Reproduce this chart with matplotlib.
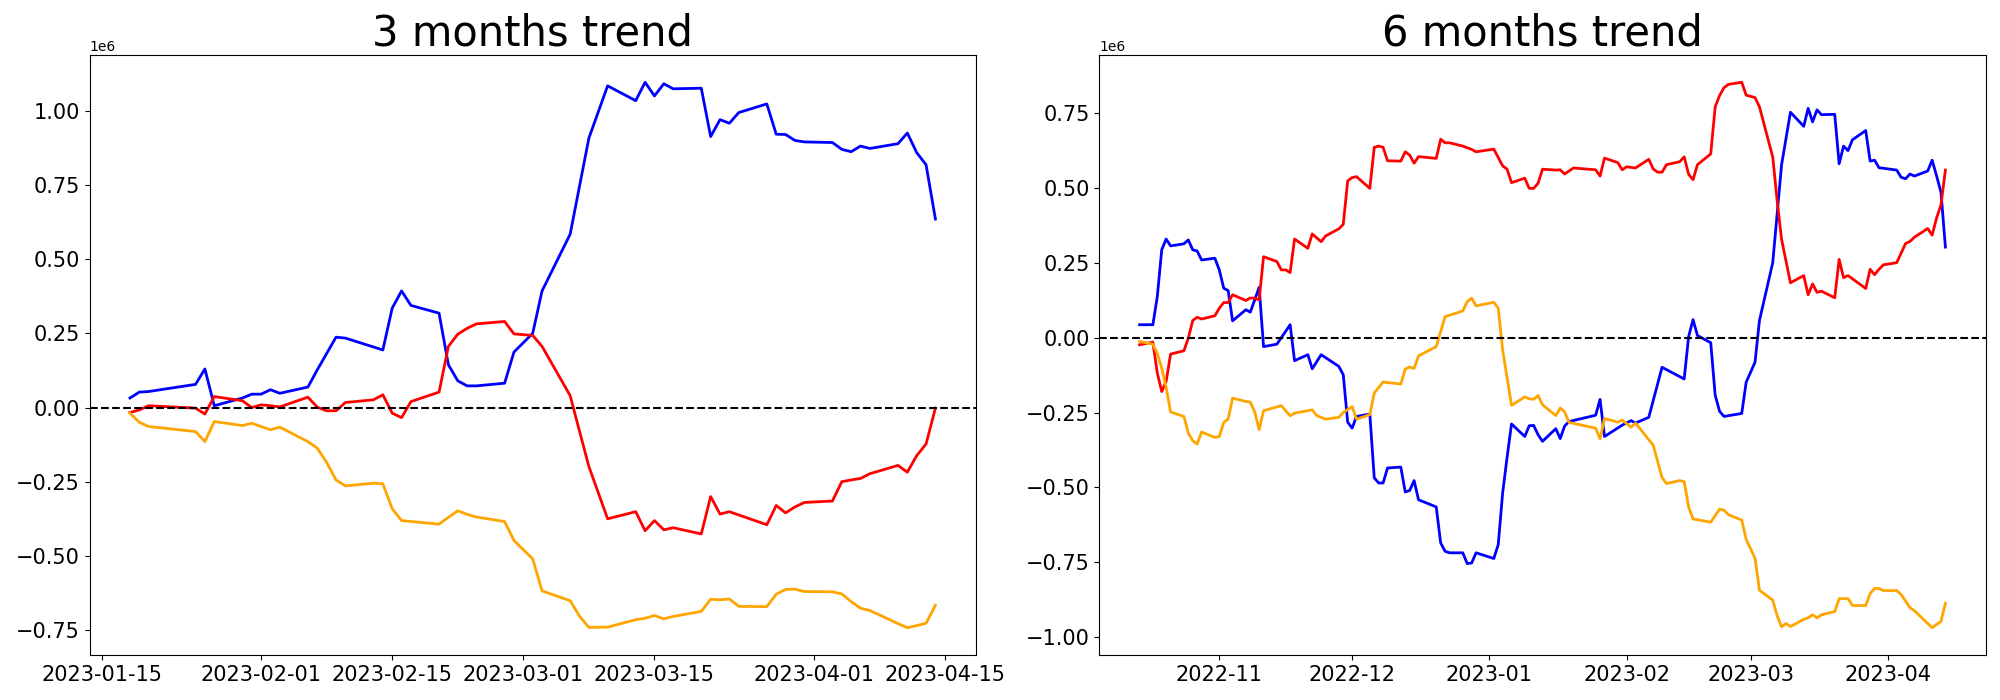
import matplotlib
matplotlib.use('Agg')
import matplotlib.pyplot as plt
import matplotlib.dates as mdates
import pandas as pd

# ---------------- 3 months trend (day offsets from 2023-01-15) ----------------
BASE_3M = '2023-01-15'
days_3m = [3, 4, 5, 10, 11, 12, 15, 16, 17, 18, 19, 22, 23, 24, 25, 26, 29, 30, 31, 32,
           33, 36, 37, 38, 39, 40, 43, 44, 46, 47, 50, 51, 52, 54, 57, 58, 59, 60, 61, 64,
           65, 66, 67, 68, 71, 72, 73, 74, 75, 78, 79, 80, 81, 82, 85, 86, 87, 88, 89]
blue_3m = [0.032, 0.052, 0.054, 0.078, 0.130, 0.006, 0.032, 0.045, 0.045, 0.060, 0.048,
           0.069, 0.127, 0.182, 0.237, 0.234, 0.204, 0.194, 0.335, 0.393, 0.344, 0.318,
           0.144, 0.090, 0.073, 0.073, 0.082, 0.187, 0.250, 0.393, 0.584, 0.746, 0.908,
           1.084, 1.034, 1.096, 1.050, 1.091, 1.074, 1.076, 0.913, 0.970, 0.958, 0.994,
           1.023, 0.921, 0.920, 0.900, 0.895, 0.893, 0.870, 0.862, 0.881, 0.873, 0.889,
           0.925, 0.859, 0.818, 0.635]
red_3m = [-0.017, -0.008, 0.006, -0.002, -0.022, 0.037, 0.023, 0.000, 0.009, 0.006, 0.002,
          0.035, 0.001, -0.011, -0.011, 0.017, 0.026, 0.043, -0.019, -0.034, 0.020, 0.052,
          0.206, 0.247, 0.267, 0.282, 0.290, 0.248, 0.243, 0.206, 0.040, -0.080, -0.199,
          -0.375, -0.351, -0.415, -0.381, -0.412, -0.405, -0.426, -0.300, -0.359, -0.351,
          -0.362, -0.395, -0.330, -0.355, -0.335, -0.320, -0.315, -0.250, -0.244, -0.239,
          -0.223, -0.195, -0.218, -0.162, -0.123, -0.002]
orange_3m = [-0.019, -0.050, -0.064, -0.081, -0.115, -0.047, -0.061, -0.053, -0.064, -0.075,
             -0.066, -0.115, -0.137, -0.185, -0.244, -0.264, -0.255, -0.257, -0.341, -0.381,
             -0.384, -0.393, -0.370, -0.348, -0.360, -0.369, -0.384, -0.448, -0.510, -0.618,
             -0.651, -0.703, -0.741, -0.740, -0.715, -0.710, -0.701, -0.712, -0.704, -0.687,
             -0.646, -0.648, -0.645, -0.670, -0.671, -0.629, -0.613, -0.612, -0.620, -0.621,
             -0.628, -0.654, -0.676, -0.684, -0.728, -0.742, -0.735, -0.727, -0.666]

# ---------------- 6 months trend (day offsets from 2022-11-01) ----------------
BASE_6M = '2022-11-01'
blue_6m_days = [-18, -15, -14, -13, -12, -11, -8, -7, -6, -5, -4, -1, 0, 1, 2, 3, 6, 7, 8, 9,
                10, 13, 16, 17, 20, 21, 23, 27, 28, 29, 30, 31, 34, 35, 36, 37, 38, 41, 42, 43,
                44, 45, 49, 50, 51, 52, 55, 56, 57, 58, 62, 63, 64, 65, 66, 69, 70, 71, 72, 73,
                76, 77, 78, 79, 85, 86, 87, 91, 93, 94, 97, 100, 105, 106, 107, 108, 111, 112,
                113, 114, 118, 119, 121, 122, 125, 127, 129, 132, 133, 134, 135, 136, 139, 140,
                141, 142, 143, 146, 147, 148, 149, 153, 154, 155, 156, 157, 160, 161, 162, 163, 164]
blue_6m = [0.043, 0.043, 0.137, 0.293, 0.329, 0.306, 0.313, 0.326, 0.293, 0.289, 0.259, 0.265,
           0.226, 0.165, 0.157, 0.056, 0.093, 0.085, 0.126, 0.168, -0.030, -0.022, 0.043, -0.077,
           -0.057, -0.104, -0.057, -0.096, -0.124, -0.282, -0.302, -0.263, -0.255, -0.468, -0.485,
           -0.485, -0.435, -0.432, -0.515, -0.510, -0.477, -0.541, -0.565, -0.685, -0.713, -0.718,
           -0.718, -0.754, -0.752, -0.718, -0.737, -0.691, -0.518, -0.400, -0.288, -0.330, -0.294,
           -0.293, -0.324, -0.346, -0.304, -0.337, -0.295, -0.280, -0.259, -0.206, -0.330, -0.292,
           -0.277, -0.285, -0.266, -0.099, -0.138, 0.003, 0.060, 0.007, -0.017, -0.192, -0.246,
           -0.263, -0.253, -0.149, -0.082, 0.057, 0.250, 0.577, 0.752, 0.705, 0.765, 0.720, 0.760,
           0.744, 0.745, 0.580, 0.639, 0.624, 0.660, 0.691, 0.589, 0.592, 0.567, 0.559, 0.535,
           0.530, 0.546, 0.539, 0.556, 0.592, 0.540, 0.485, 0.302]
red_6m_days = [-18, -15, -14, -13, -12, -11, -8, -7, -6, -5, -4, -1, 0, 1, 2, 3, 6, 7, 8, 9, 10,
               13, 14, 15, 16, 17, 20, 21, 23, 24, 27, 28, 29, 30, 31, 34, 35, 36, 37, 38, 41, 42,
               43, 44, 45, 49, 50, 51, 52, 55, 57, 58, 62, 64, 65, 66, 69, 70, 71, 72, 73, 76, 77,
               78, 80, 85, 86, 87, 90, 91, 92, 94, 97, 98, 99, 100, 101, 104, 105, 106, 107, 108,
               111, 112, 113, 114, 115, 118, 119, 121, 122, 125, 126, 127, 129, 132, 133, 134, 135,
               136, 139, 140, 141, 142, 146, 147, 148, 149, 150, 153, 155, 156, 157, 160, 161, 162,
               163, 164]
red_6m = [-0.024, -0.015, -0.118, -0.180, -0.146, -0.055, -0.044, -0.002, 0.057, 0.068, 0.062,
          0.073, 0.098, 0.117, 0.117, 0.143, 0.124, 0.132, 0.132, 0.126, 0.270, 0.254, 0.226,
          0.226, 0.217, 0.329, 0.298, 0.346, 0.320, 0.339, 0.363, 0.378, 0.523, 0.534, 0.537,
          0.498, 0.635, 0.639, 0.635, 0.590, 0.589, 0.620, 0.609, 0.582, 0.604, 0.598, 0.662,
          0.650, 0.650, 0.639, 0.628, 0.620, 0.629, 0.573, 0.562, 0.517, 0.532, 0.498, 0.498,
          0.515, 0.562, 0.559, 0.560, 0.546, 0.566, 0.560, 0.539, 0.599, 0.584, 0.560, 0.570,
          0.566, 0.595, 0.563, 0.552, 0.552, 0.577, 0.587, 0.603, 0.545, 0.527, 0.577, 0.613,
          0.770, 0.808, 0.834, 0.845, 0.852, 0.809, 0.801, 0.770, 0.603, 0.456, 0.328, 0.183,
          0.207, 0.143, 0.179, 0.151, 0.155, 0.133, 0.261, 0.200, 0.207, 0.164, 0.228, 0.210,
          0.228, 0.243, 0.250, 0.314, 0.321, 0.335, 0.364, 0.342, 0.399, 0.443, 0.559]
orange_6m_days = [-18, -15, -14, -13, -12, -11, -8, -7, -6, -5, -4, -1, 0, 1, 2, 3, 6, 7, 8, 9,
                  10, 14, 16, 17, 21, 22, 24, 27, 28, 30, 31, 34, 35, 37, 41, 42, 43, 44, 45, 49,
                  50, 51, 55, 56, 57, 58, 62, 63, 64, 66, 69, 70, 71, 72, 73, 76, 77, 78, 79, 85,
                  86, 87, 90, 91, 93, 94, 98, 100, 101, 104, 105, 106, 107, 111, 113, 114, 115,
                  118, 119, 121, 122, 125, 126, 127, 128, 129, 132, 133, 134, 135, 136, 139, 140,
                  142, 143, 146, 147, 148, 149, 150, 153, 154, 156, 157, 161, 163, 164]
orange_6m = [-0.013, -0.022, -0.052, -0.102, -0.166, -0.248, -0.263, -0.318, -0.344, -0.355,
             -0.315, -0.333, -0.330, -0.283, -0.272, -0.202, -0.213, -0.215, -0.248, -0.307,
             -0.244, -0.227, -0.261, -0.252, -0.241, -0.260, -0.272, -0.266, -0.250, -0.230,
             -0.272, -0.257, -0.185, -0.148, -0.155, -0.105, -0.098, -0.103, -0.061, -0.030,
             0.020, 0.070, 0.089, 0.120, 0.132, 0.106, 0.118, 0.098, -0.041, -0.226, -0.198,
             -0.204, -0.206, -0.193, -0.224, -0.260, -0.235, -0.248, -0.283, -0.302, -0.338,
             -0.270, -0.282, -0.275, -0.299, -0.285, -0.359, -0.467, -0.487, -0.477, -0.481,
             -0.565, -0.605, -0.616, -0.572, -0.576, -0.591, -0.609, -0.673, -0.736, -0.843,
             -0.876, -0.928, -0.965, -0.954, -0.964, -0.940, -0.935, -0.925, -0.935, -0.925,
             -0.914, -0.871, -0.871, -0.894, -0.894, -0.854, -0.837, -0.837, -0.844, -0.844,
             -0.857, -0.901, -0.911, -0.968, -0.947, -0.886]

titles = ['3 months trend', '6 months trend']
SCALE = 1e6


def to_dates(base, offsets):
    return pd.Timestamp(base) + pd.to_timedelta(offsets, unit='D')


def scaled(vals):
    return [v * SCALE for v in vals]


fig = plt.figure(figsize=(20, 7), dpi=100)
ax1 = fig.add_axes([89.7 / 2000, 45 / 700, 886 / 2000, 600 / 700])
ax2 = fig.add_axes([1099.3 / 2000, 45 / 700, 886.4 / 2000, 600 / 700])

LW = 2

d3 = to_dates(BASE_3M, days_3m)
ax1.plot(d3, scaled(blue_3m), color='blue', lw=LW)
ax1.plot(d3, scaled(red_3m), color='red', lw=LW)
ax1.plot(d3, scaled(orange_3m), color='orange', lw=LW)
ax1.axhline(0, color='black', linestyle='--', lw=1.5)
ax1.xaxis.set_major_locator(mdates.DayLocator(bymonthday=[1, 15]))
ax1.xaxis.set_major_formatter(mdates.DateFormatter('%Y-%m-%d'))

ax2.plot(to_dates(BASE_6M, blue_6m_days), scaled(blue_6m), color='blue', lw=LW)
ax2.plot(to_dates(BASE_6M, red_6m_days), scaled(red_6m), color='red', lw=LW)
ax2.plot(to_dates(BASE_6M, orange_6m_days), scaled(orange_6m), color='orange', lw=LW)
ax2.axhline(0, color='black', linestyle='--', lw=1.5)
ax2.xaxis.set_major_locator(mdates.MonthLocator())
ax2.xaxis.set_major_formatter(mdates.DateFormatter('%Y-%m'))

for ax, t in zip([ax1, ax2], titles):
    ax.set_title(t, fontsize=30)
    ax.tick_params(labelsize=15)

fig.savefig('out.png', dpi=100)
